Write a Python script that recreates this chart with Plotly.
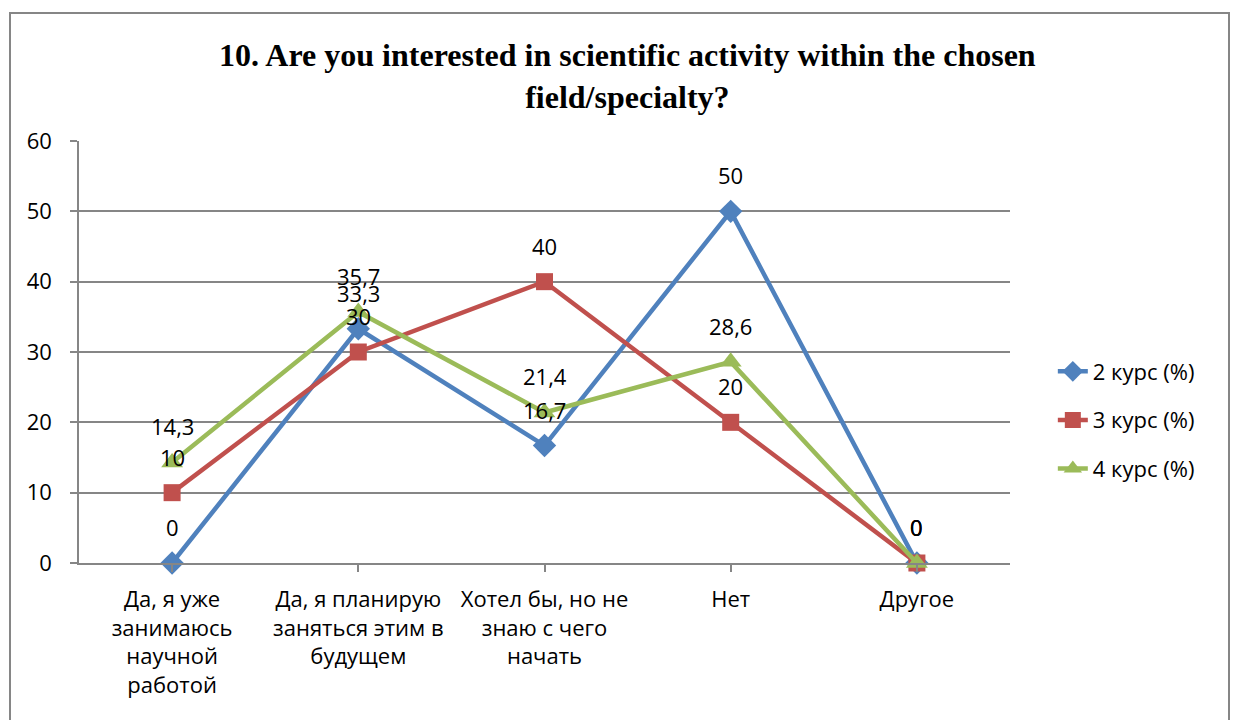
import plotly.graph_objects as go

categories = [
    "Да, я уже<br>занимаюсь<br>научной<br>работой",
    "Да, я планирую<br>заняться этим в<br>будущем",
    "Хотел бы, но не<br>знаю с чего<br>начать",
    "Нет",
    "Другое",
]
kurs2 = [0, 33.3, 16.7, 50, 0]
kurs3 = [10, 30, 40, 20, 0]
kurs4 = [14.3, 35.7, 21.4, 28.6, 0]

series = [
    ("2 курс (%)", kurs2, "#4F81BD", "diamond", 18),
    ("3 курс (%)", kurs3, "#C0504D", "square", 17),
    ("4 курс (%)", kurs4, "#9BBB59", "triangle-up", 19),
]

label_font = "Open Sans, Liberation Sans, sans-serif"
fsize = 22

fig = go.Figure()
for i, (name, vals, color, sym, size) in enumerate(series):
    xs = list(range(len(categories)))
    fig.add_trace(go.Scatter(
        x=xs,
        y=vals,
        name=name,
        legendgroup=str(i),
        mode="lines+markers",
        line=dict(color=color, width=4.5),
        marker=dict(color=color, symbol=sym, size=size),
        cliponaxis=False,
    ))
    # data labels placed above each point (Excel "above" style)
    for x, v in zip(xs, vals):
        fig.add_annotation(
            x=x, y=v, xref="x", yref="y",
            text=f"{v:g}".replace(".", ","),
            showarrow=False, yshift=36, yanchor="middle",
            font=dict(family=label_font, size=fsize, color="#000000"),
        )

fig.update_layout(
    width=1235,
    height=720,
    paper_bgcolor="white",
    plot_bgcolor="white",
    margin=dict(l=79, r=225, t=141, b=157),
    title=dict(
        text="<b>10. Are you interested in scientific activity within the chosen<br>field/specialty?</b>",
        font=dict(family="Liberation Serif, Times New Roman, serif", size=32, color="#000000"),
        x=0.508, xanchor="center", xref="container",
        y=0.908, yanchor="top",
    ),
    showlegend=True,
    legend=dict(
        x=1.046, xanchor="left", y=(563 - 420) / 422, yanchor="middle",
        font=dict(family=label_font, size=fsize, color="#000000"),
        tracegroupgap=17,
        bgcolor="rgba(0,0,0,0)",
    ),
    font=dict(family=label_font, size=fsize, color="#000000"),
)

fig.update_xaxes(
    tickmode="array",
    tickvals=list(range(len(categories))),
    ticktext=categories,
    range=[-0.5, len(categories) - 0.5],
    showgrid=False,
    showline=True, linecolor="#868686", linewidth=1.5,
    ticks="outside", ticklen=7, tickcolor="#868686", tickwidth=1.5,
    tickson="boundaries",
    ticklabelstandoff=9,
    tickfont=dict(family=label_font, size=fsize, color="#000000"),
    zeroline=False,
)
fig.update_yaxes(
    range=[0, 60], dtick=10,
    showgrid=True, gridcolor="#868686", gridwidth=1.5,
    showline=True, linecolor="#868686", linewidth=1.5,
    ticks="outside", ticklen=7, tickcolor="#868686", tickwidth=1.5,
    ticklabelstandoff=14,
    tickfont=dict(family=label_font, size=fsize, color="#000000"),
    zeroline=False,
)

# outer chart border
fig.add_shape(
    type="rect", xref="paper", yref="paper",
    x0=-69 / 931, x1=(1229 - 79) / 931, y0=-0.4, y1=(563 - 13) / 422,
    line=dict(color="#868686", width=2), fillcolor="rgba(0,0,0,0)", layer="below",
)

fig.write_html(
    "out.html",
    config={"displayModeBar": False},
    post_script="document.body.style.margin='0';",
)
